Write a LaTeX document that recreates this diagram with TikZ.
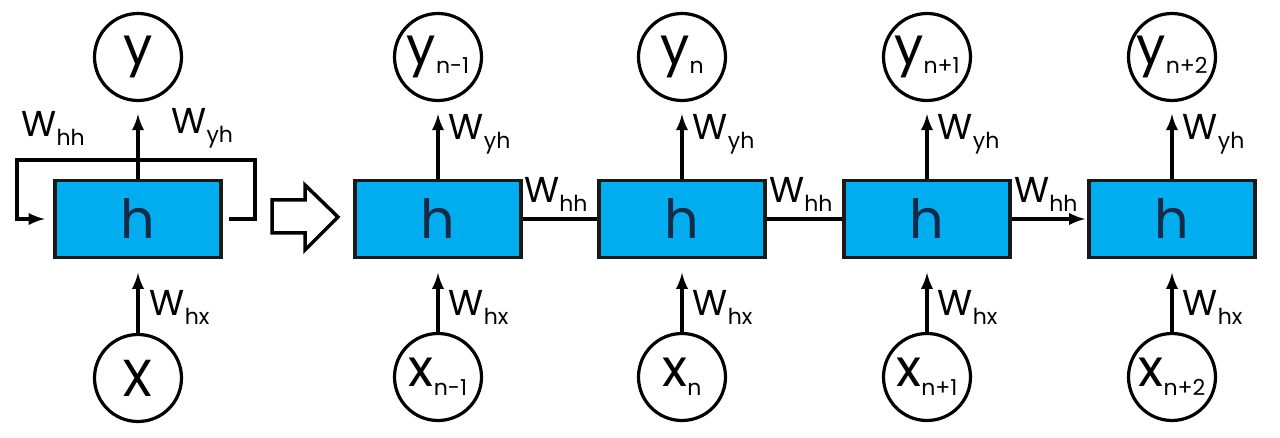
\documentclass[tikz,border=0pt]{standalone}
\usepackage{fontspec}
\setmainfont{Poppins}
\usetikzlibrary{positioning}
\definecolor{cellblue}{RGB}{0,174,239}
\definecolor{cellink}{RGB}{22,42,72}
\newcommand{\lo}[1]{\raisebox{-4.5pt}{\fontsize{11}{11}\selectfont #1}}
\newcommand{\wt}[1]{{\fontsize{18}{18}\selectfont W}\lo{#1}}
\tikzset{
  cell/.style={draw=black!90, line width=1.75pt, fill=cellblue,
    minimum width=83pt, minimum height=38.5pt, inner sep=0pt,
    text=cellink, font=\fontsize{27}{27}\selectfont},
  unit/.style={circle, draw, line width=1.6pt, minimum size=43.5pt,
    inner sep=0pt, font=\fontsize{26}{26}\selectfont},
  wlab/.style={inner sep=0pt},
  wire/.style={line width=1.75pt, -latex},
  plain/.style={line width=1.75pt},
}
\begin{document}
\begin{tikzpicture}[x=0.5pt,y=-0.5pt]
  \useasboundingbox (0,0) rectangle (1280,438);
  % folded network
  \node[cell] (h0) at (138,219) {h};
  \node[unit] (y0) at (138,57) {y};
  \node[unit] (x0) at (138,378) {X};
  \draw[wire,shorten >=6pt] (h0.north) -- (y0.south);
  \draw[wire,shorten >=6.75pt] (x0.north) -- (h0.south)
      node[wlab,pos=0.34,right=5pt] (wx0) {\wt{hx}};
  \coordinate (loopR) at (255,160);
  \coordinate (loopL) at (17,160);
  \draw[wire,shorten <=3.25pt,shorten >=4.25pt]
      (h0.east) -| (loopR) -- (loopL) |- (h0.west);
  \node[wlab,anchor=west] (wh0) at (21,128) {\wt{hh}};
  \node[wlab,anchor=west] (wy0) at (171,128) {\wt{yh}};
  % unfold
  \draw[line width=1.75pt,line join=miter]
      (272,200) -- (305,200) -- (305,185) -- (338,217)
      -- (305,250) -- (305,233) -- (272,233) -- cycle;
  % unrolled network
  \foreach \i/\xc/\idx in {1/438/n-1,2/682/n,3/927/n+1,4/1172/n+2}
  {
    \node[cell] (h\i) at (\xc,219) {h};
    \node[unit] (y\i) at (\xc,57) {y\lo{\idx}};
    \node[unit] (x\i) at (\xc,377) {x\lo{\idx}};
    \draw[wire,shorten >=6pt] (h\i.north) -- (y\i.south)
        node[wlab,pos=0.58,right=4.5pt] (wy\i) {\wt{yh}};
    \draw[wire,shorten >=6.75pt] (x\i.north) -- (h\i.south)
        node[wlab,pos=0.34,right=4.5pt] (wx\i) {\wt{hx}};
  }
  \foreach \i/\j in {1/2,2/3}
    \draw[plain] (h\i.east) -- (h\j.west)
        node[wlab,pos=1,above left=3pt and 4pt] {\wt{hh}};
  \draw[wire,shorten >=1pt] (h3.east) -- (h4.west)
      node[wlab,pos=1,above left=3pt and 4pt] {\wt{hh}};
\end{tikzpicture}
\end{document}
